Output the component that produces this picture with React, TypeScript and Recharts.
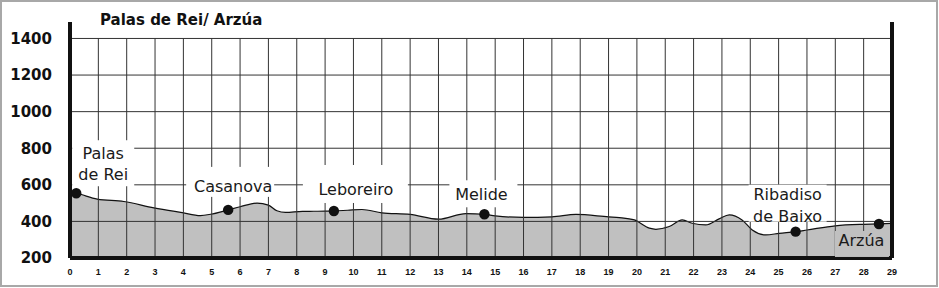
import React from 'react';
import { ComposedChart, Area, XAxis, YAxis, ReferenceLine, ReferenceDot } from 'recharts';

const title = 'Palas de Rei/ Arzúa';

const profileKm = [0, 0.22, 0.96, 1.9, 2.96, 3.96, 4.6, 4.96, 5.58, 6.0, 6.6, 7.0, 7.3, 7.6, 8.2, 9.0, 9.31, 9.8, 10.3, 11.0, 12.0, 13.0, 13.97, 14.62, 15.0, 16.0, 17.0, 17.85, 19.0, 19.38, 19.91, 20.44, 20.67, 21.14, 21.6, 21.95, 22.43, 22.9, 23.26, 23.71, 24.07, 24.55, 25.02, 25.6, 26.0, 27.0, 28.0, 28.54, 29];
const profileElev = [560, 554, 522, 509, 474, 448, 432, 439, 463, 480, 500, 489, 458, 449, 455, 456, 457, 461, 465, 447, 438, 412, 443, 439, 430, 422, 425, 438, 425, 421, 408, 363, 357, 372, 408, 390, 381, 414, 436, 408, 353, 326, 335, 344, 353, 376, 384, 386, 389];

const xTicks = [0, 1, 2, 3, 4, 5, 6, 7, 8, 9, 10, 11, 12, 13, 14, 15, 16, 17, 18, 19, 20, 21, 22, 23, 24, 25, 26, 27, 28, 29];
const yTicks = [200, 400, 600, 800, 1000, 1200, 1400];
const gridKm = [1, 2, 3, 4, 5, 6, 7, 8, 9, 10, 11, 12, 13, 14, 15, 16, 17, 18, 19, 20, 21, 22, 23, 24, 25, 26, 27, 28];

const stopNames = [['Palas', 'de Rei'], ['Casanova'], ['Leboreiro'], ['Melide'], ['Ribadiso', 'de Baixo'], ['Arzúa']];
const stopKm = [0.22, 5.58, 9.31, 14.62, 25.6, 28.54];
const stopElev = [554, 463, 457, 439, 344, 386];

// label box layout (pixel offsets from the dot): [dx, dy, w, h], text centre offset, background
const stopLayout = [
  { box: [-4, -53, 62, 46], text: [27, -40], bg: '#ffffff' },
  { box: [-42, -43, 88, 30], text: [5, -23], bg: '#ffffff' },
  { box: [-31, -46, 105, 38], text: [22, -21], bg: '#ffffff' },
  { box: [-35, -34, 68, 27], text: [-3, -20], bg: '#ffffff' },
  { box: [-47, -47, 78, 37], text: [-8, -37], bg: '#ffffff' },
  { box: [-44, 7, 54, 26], text: [-17.5, 17], bg: '#c0c0c0' },
];

const data = profileKm.map((k, i) => ({ km: k, elev: profileElev[i] }));

const StopMarker = (props: any) => {
  const { cx, cy, idx } = props;
  if (cx == null || cy == null) return null;
  const L = stopLayout[idx];
  const lines = stopNames[idx];
  return (
    <g>
      <rect x={cx + L.box[0]} y={cy + L.box[1]} width={L.box[2]} height={L.box[3]} fill={L.bg} />
      {lines.map((t, j) => (
        <text
          key={j}
          x={cx + L.text[0]}
          y={cy + L.text[1] + j * 21.5}
          textAnchor="middle"
          dominantBaseline="central"
          fontFamily="'DejaVu Sans', Verdana, sans-serif"
          fontSize={16}
          fill="#1a1a1a"
        >
          {t}
        </text>
      ))}
      <circle cx={cx} cy={cy} r={5.2} fill="#111" />
    </g>
  );
};

export default function App() {
  return (
    <div style={{ position: 'absolute', left: 0, top: 0, width: 939, height: 288, background: '#fff' }}>
      <ComposedChart
        width={939}
        height={288}
        data={data}
        margin={{ top: 22, right: 0, bottom: 0, left: 0 }}
        style={{ position: 'absolute', left: 0, top: 0 }}
      >
        <XAxis
          dataKey="km"
          type="number"
          domain={[0, 29]}
          ticks={xTicks}
          interval={0}
          height={30}
          tickLine={false}
          tickSize={0}
          tickMargin={11}
          axisLine={{ stroke: '#111', strokeWidth: 4 }}
          tick={{ fontFamily: "'Liberation Sans', Arial, sans-serif", fontWeight: 700, fontSize: 9, fill: '#111' }}
        />
        <YAxis
          yAxisId="l"
          type="number"
          domain={[200, 1490]}
          ticks={yTicks}
          interval={0}
          width={70}
          tickLine={false}
          tickSize={0}
          tickMargin={18}
          axisLine={{ stroke: '#111', strokeWidth: 4 }}
          tick={{ fontFamily: "'DejaVu Sans', Verdana, sans-serif", fontWeight: 700, fontSize: 15, fill: '#111' }}
        />
        <YAxis
          yAxisId="r"
          orientation="right"
          type="number"
          domain={[200, 1490]}
          width={47}
          tick={false}
          tickLine={false}
          axisLine={{ stroke: '#111', strokeWidth: 4 }}
        />
        <Area
          yAxisId="l"
          dataKey="elev"
          type="monotone"
          fill="#c0c0c0"
          fillOpacity={1}
          stroke="#111"
          strokeWidth={1.2}
          baseValue={200}
          isAnimationActive={false}
          dot={false}
          activeDot={false}
        />
        {yTicks.filter((v) => v > 200).map((v) => (
          <ReferenceLine key={'h' + v} yAxisId="l" y={v} stroke="#333" strokeWidth={1} />
        ))}
        {gridKm.map((k) => (
          <ReferenceLine
            key={'v' + k}
            yAxisId="l"
            segment={[{ x: k, y: 200 }, { x: k, y: 1400 }]}
            stroke="#333"
            strokeWidth={1}
          />
        ))}
        {stopKm.map((k, i) => (
          <ReferenceDot
            key={'s' + i}
            yAxisId="l"
            x={k}
            y={stopElev[i]}
            r={5}
            ifOverflow="visible"
            shape={(p: any) => <StopMarker {...p} idx={i} />}
          />
        ))}
      </ComposedChart>
      <div
        style={{
          position: 'absolute',
          left: 100,
          top: 12,
          fontFamily: "'DejaVu Sans', Verdana, sans-serif",
          fontWeight: 700,
          fontSize: 15,
          lineHeight: '17px',
          color: '#111',
          whiteSpace: 'nowrap',
        }}
      >
        {title}
      </div>
      <div
        style={{
          position: 'absolute',
          left: 0,
          top: 0,
          width: 938,
          height: 287,
          border: '2px solid #a8a8a8',
          boxSizing: 'border-box',
          pointerEvents: 'none',
        }}
      />
    </div>
  );
}
